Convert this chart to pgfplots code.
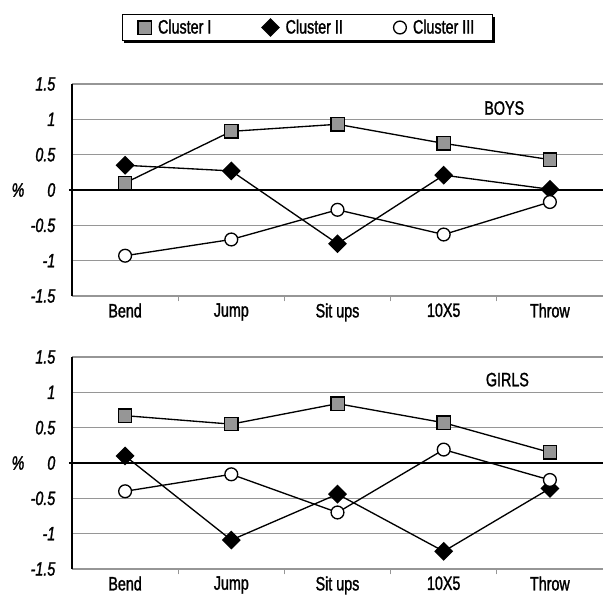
\documentclass[border=0pt]{standalone}
\usepackage{fontspec}
\setmainfont{Liberation Sans}[FakeStretch=0.74, FakeBold=1.4]
\usepackage{pgfplots}
\pgfplotsset{compat=1.18}
\usetikzlibrary{shadows}
\definecolor{sqgray}{RGB}{150,150,150}
\definecolor{gridgray}{RGB}{150,150,150}
\newcommand{\fs}{\fontsize{14.5}{16}\selectfont}

\pgfplotstableread{
x  c1    c2     c3
0  0.10  0.35  -0.93
1  0.83  0.27  -0.70
2  0.93 -0.76  -0.28
3  0.66  0.21  -0.63
4  0.43  0.01  -0.17
}\boys

\pgfplotstableread{
x  c1    c2     c3
0  0.67  0.10  -0.40
1  0.55 -1.09  -0.16
2  0.84 -0.44  -0.70
3  0.57 -1.25   0.19
4  0.15 -0.36  -0.24
}\girls

\pgfplotsset{
  panel/.style={
    scale only axis,
    width=398.25pt, height=159pt,
    xmin=-0.5, xmax=4.5,
    ymin=-1.5, ymax=1.5,
    clip=false,
    axis x line*=bottom,
    axis y line*=left,
    x axis line style={-, gridgray, line width=0.8pt},
    y axis line style={-, black, line width=1.3pt},
    xtick={0,1,2,3,4},
    xticklabels={Bend,Jump,Sit ups,10X5,Throw},
    minor xtick={0.5,1.5,2.5,3.5},
    ytick={-1.5,-1,-0.5,0,0.5,1,1.5},
    yticklabels={-1.5,-1,-0.5,0,0.5,1,1.5},
    tick align=outside,
    major tick length=0pt,
    minor tick length=4pt,
    minor x tick style={gridgray, line width=0.8pt},
    ymajorgrids,
    grid style={gridgray, line width=0.8pt},
    xticklabel style={font=\fs, yshift=-2pt},
    yticklabel style={font=\fs\itshape, xshift=-9pt},
    ylabel={\%},
    ylabel style={rotate=-90, at={(axis description cs:-0.1017,0.5)}, anchor=center, font=\fs\itshape},
    legend image code/.code={\draw[#1] plot[only marks] coordinates {(0.2cm,0cm)};},
  },
  s1/.style={black, line width=1pt, mark=square*, mark size=5pt, mark options={fill=sqgray, draw=black, line width=1pt}},
  s2/.style={black, line width=1pt, mark=square*, mark size=4.5pt, mark options={rotate=45, fill=black, draw=black}},
  s3/.style={black, line width=1pt, mark=*, mark size=4.8pt, mark options={fill=white, draw=black, line width=1pt}},
}

\begin{document}
\begin{tikzpicture}
\begin{axis}[panel, at={(0,0)}, anchor=north west,
  legend columns=3,
  legend style={at={(0.4435,1.2665)}, anchor=center, draw=black, line width=0.8pt, fill=white,
    drop shadow={shadow xshift=1.8pt, shadow yshift=-1.8pt, fill=black, opacity=1},
    font=\fs, inner xsep=12pt, inner ysep=2pt,
    /tikz/every odd column/.append style={column sep=3pt},
    /tikz/every even column/.append style={column sep=36pt}},
]
\addplot[black, line width=1.3pt, forget plot] coordinates {(-0.53,0) (4.5,0)};
\addplot[s1] table[x=x, y=c1] {\boys};
\addlegendentry{Cluster I}
\addplot[s2] table[x=x, y=c2] {\boys};
\addlegendentry{Cluster II}
\addplot[s3] table[x=x, y=c3] {\boys};
\addlegendentry{Cluster III}
\node[font=\fs] at (axis cs:3.57,1.16) {BOYS};
\end{axis}

\begin{axis}[panel, at={(0,-204.75pt)}, anchor=north west]
\addplot[black, line width=1.3pt, forget plot] coordinates {(-0.53,0) (4.5,0)};
\addplot[s1] table[x=x, y=c1] {\girls};
\addplot[s2] table[x=x, y=c2] {\girls};
\addplot[s3] table[x=x, y=c3] {\girls};
\node[font=\fs] at (axis cs:3.6,1.18) {GIRLS};
\end{axis}
\pgfresetboundingbox
\path[use as bounding box] (-54pt,63pt) rectangle (398.25pt,-382.5pt);
\end{tikzpicture}
\end{document}
